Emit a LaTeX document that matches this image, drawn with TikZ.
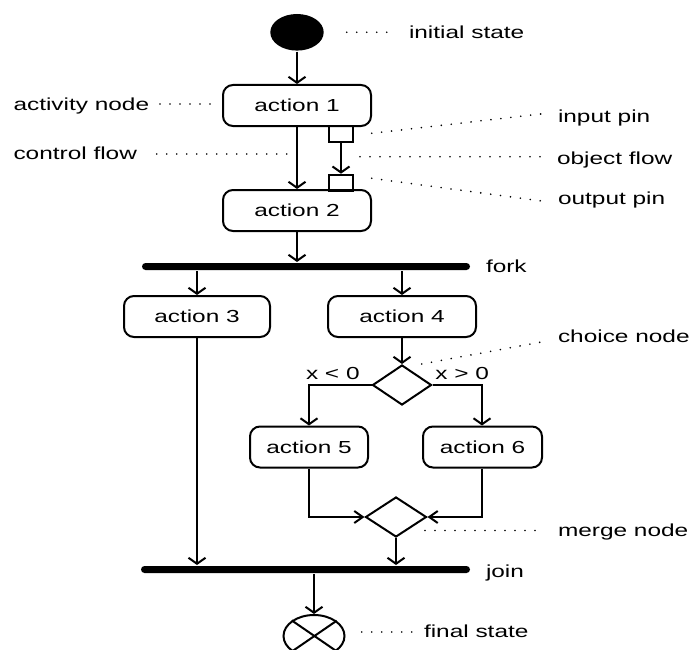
\documentclass[tikz,border=0pt]{standalone}
\usepackage{fontspec}
\setmainfont{Liberation Sans}
\usepackage{graphicx}
\usetikzlibrary{arrows.meta,shapes.geometric}
% text is set wide, like the rest of the drawing
\newcommand{\widetext}[1]{\scalebox{1.40}[1]{#1}}
\begin{document}
\begin{tikzpicture}[x=1bp,y=-1bp,
  every node/.style={font=\fontsize{17.5}{20}\selectfont},
  line width=2bp,
  actbox/.style={draw, rounded corners=10bp, minimum height=41bp, inner sep=0pt},
  pinbox/.style={draw, minimum width=24bp, minimum height=16bp, inner sep=0pt},
  syncbar/.style={fill, rounded corners=3.5bp, minimum height=7bp, inner sep=0pt, minimum width=#1},
  decision/.style={diamond, draw, inner sep=0pt, minimum width=59bp, minimum height=40bp},
  initstate/.style={ellipse, fill, inner sep=0pt, minimum width=53.4bp, minimum height=36.6bp},
  finalstate/.style={ellipse, draw, inner sep=0pt, minimum width=61bp, minimum height=42bp},
  flow/.style={-{Straight Barb[length=6bp,width=17bp]}},
  hflow/.style={-{Straight Barb[length=8.5bp,width=12bp]}},
  note/.style={line width=1.8bp, dash pattern=on 0pt off 10bp, line cap=round, black},
  lbl/.style={inner sep=0pt, text height=12.5pt, text depth=3.7pt, anchor=west}]

\useasboundingbox (0,0) rectangle (691,650);
\clip (0,0) rectangle (691,650);

% activity nodes
\node[initstate] (init) at (297,32.3) {};
\node[actbox, minimum width=148bp] (a1) at (297,105.5) {\widetext{action 1}};
\node[pinbox] (pout) at (341,134) {};
\node[pinbox] (pin) at (341,182.7) {};
\node[actbox, minimum width=148bp] (a2) at (297,210.5) {\widetext{action 2}};
\node[syncbar=328bp] (fork) at (306,266.5) {};
\node[actbox, minimum width=146bp] (a3) at (197,316.5) {\widetext{action 3}};
\node[actbox, minimum width=148bp] (a4) at (402,316.5) {\widetext{action 4}};
\node[decision] (choice) at (402,385) {};
\node[actbox, minimum width=118bp] (a5) at (309,447) {\widetext{action 5}};
\node[actbox, minimum width=119bp] (a6) at (482.5,447) {\widetext{action 6}};
\node[decision, minimum width=61bp] (merge) at (396,517) {};
\node[syncbar=329bp] (join) at (305.5,569.5) {};
\node[finalstate] (final) at (314,636) {};
\draw (final.145.6) -- (final.-34.4);
\draw (final.34.4) -- (final.-145.6);

% flows
\draw[flow] (init) -- (a1);
\draw[flow] (a1) -- (a2);
\draw[flow] (pout) -- (pin);
\draw[flow] (a2) -- (a2.south |- fork.north);
\draw[flow] (fork.south -| a3.north) -- (a3);
\draw[flow] (fork.south -| a4.north) -- (a4);
\draw[flow] (a4) -- (choice);
\draw[flow] (choice.west) -| (a5);
\draw[flow] (choice.east) -| ([xshift=-0.5bp]a6.north);
\draw[hflow] (a5) |- (merge.west);
\draw[hflow] ([xshift=-0.5bp]a6.south) |- (merge.east);
\draw[flow] (merge) -- (merge.south |- join.north);
\draw[flow] (a3) -- (a3.south |- join.north);
\draw[flow] (join.south -| final.north) -- (final);

% guard labels
\node[lbl] (tLt) at (305,375) {\widetext{x < 0}};
\node[lbl] (tGt) at (434.3,375) {\widetext{x > 0}};

% annotations
\node[lbl] (tInit) at (408,34.5) {\widetext{initial state}};
\node[lbl] (tAct) at (12.5,106) {\widetext{activity node}};
\node[lbl] (tCtrl) at (12.5,155) {\widetext{control flow}};
\node[lbl] (tIn) at (557,118) {\widetext{input pin}};
\node[lbl] (tObj) at (556,160) {\widetext{object flow}};
\node[lbl] (tOut) at (557,200.5) {\widetext{output pin}};
\node[lbl] (tFork) at (485,268.5) {\widetext{fork}};
\node[lbl] (tChoice) at (557,338.5) {\widetext{choice node}};
\node[lbl] (tMerge) at (557,532) {\widetext{merge node}};
\node[lbl] (tJoin) at (485,573) {\widetext{join}};
\node[lbl] (tFinal) at (423,633.5) {\widetext{final state}};

\coordinate (sInit) at (346.7,32.3);   \coordinate (eInit) at (396.7,32.3);
\coordinate (sAct) at (160,104);       \coordinate (eAct) at (213.3,104);
\coordinate (sCtrl) at (156.7,154);    \coordinate (eCtrl) at (293,154);
\coordinate (sIn) at (371.7,133.3);    \coordinate (eIn) at (546.7,113.3);
\coordinate (sObj) at (360,156.7);     \coordinate (eObj) at (546.7,156.7);
\coordinate (sOut) at (371.7,178.3);   \coordinate (eOut) at (546.7,201.7);
\coordinate (sChoice) at (421.7,364);  \coordinate (eChoice) at (543.3,341.7);
\coordinate (sMerge) at (425,530.5);   \coordinate (eMerge) at (543.3,530.5);
\coordinate (sFinal) at (361.7,632);   \coordinate (eFinal) at (413.3,632);

\draw[note] (sInit) -- (eInit);
\draw[note] (sAct) -- (eAct);
\draw[note] (sCtrl) -- (eCtrl);
\draw[note] (sIn) -- (eIn);
\draw[note] (sObj) -- (eObj);
\draw[note] (sOut) -- (eOut);
\draw[note] (sChoice) -- (eChoice);
\draw[note] (sMerge) -- (eMerge);
\draw[note] (sFinal) -- (eFinal);
\end{tikzpicture}
\end{document}
